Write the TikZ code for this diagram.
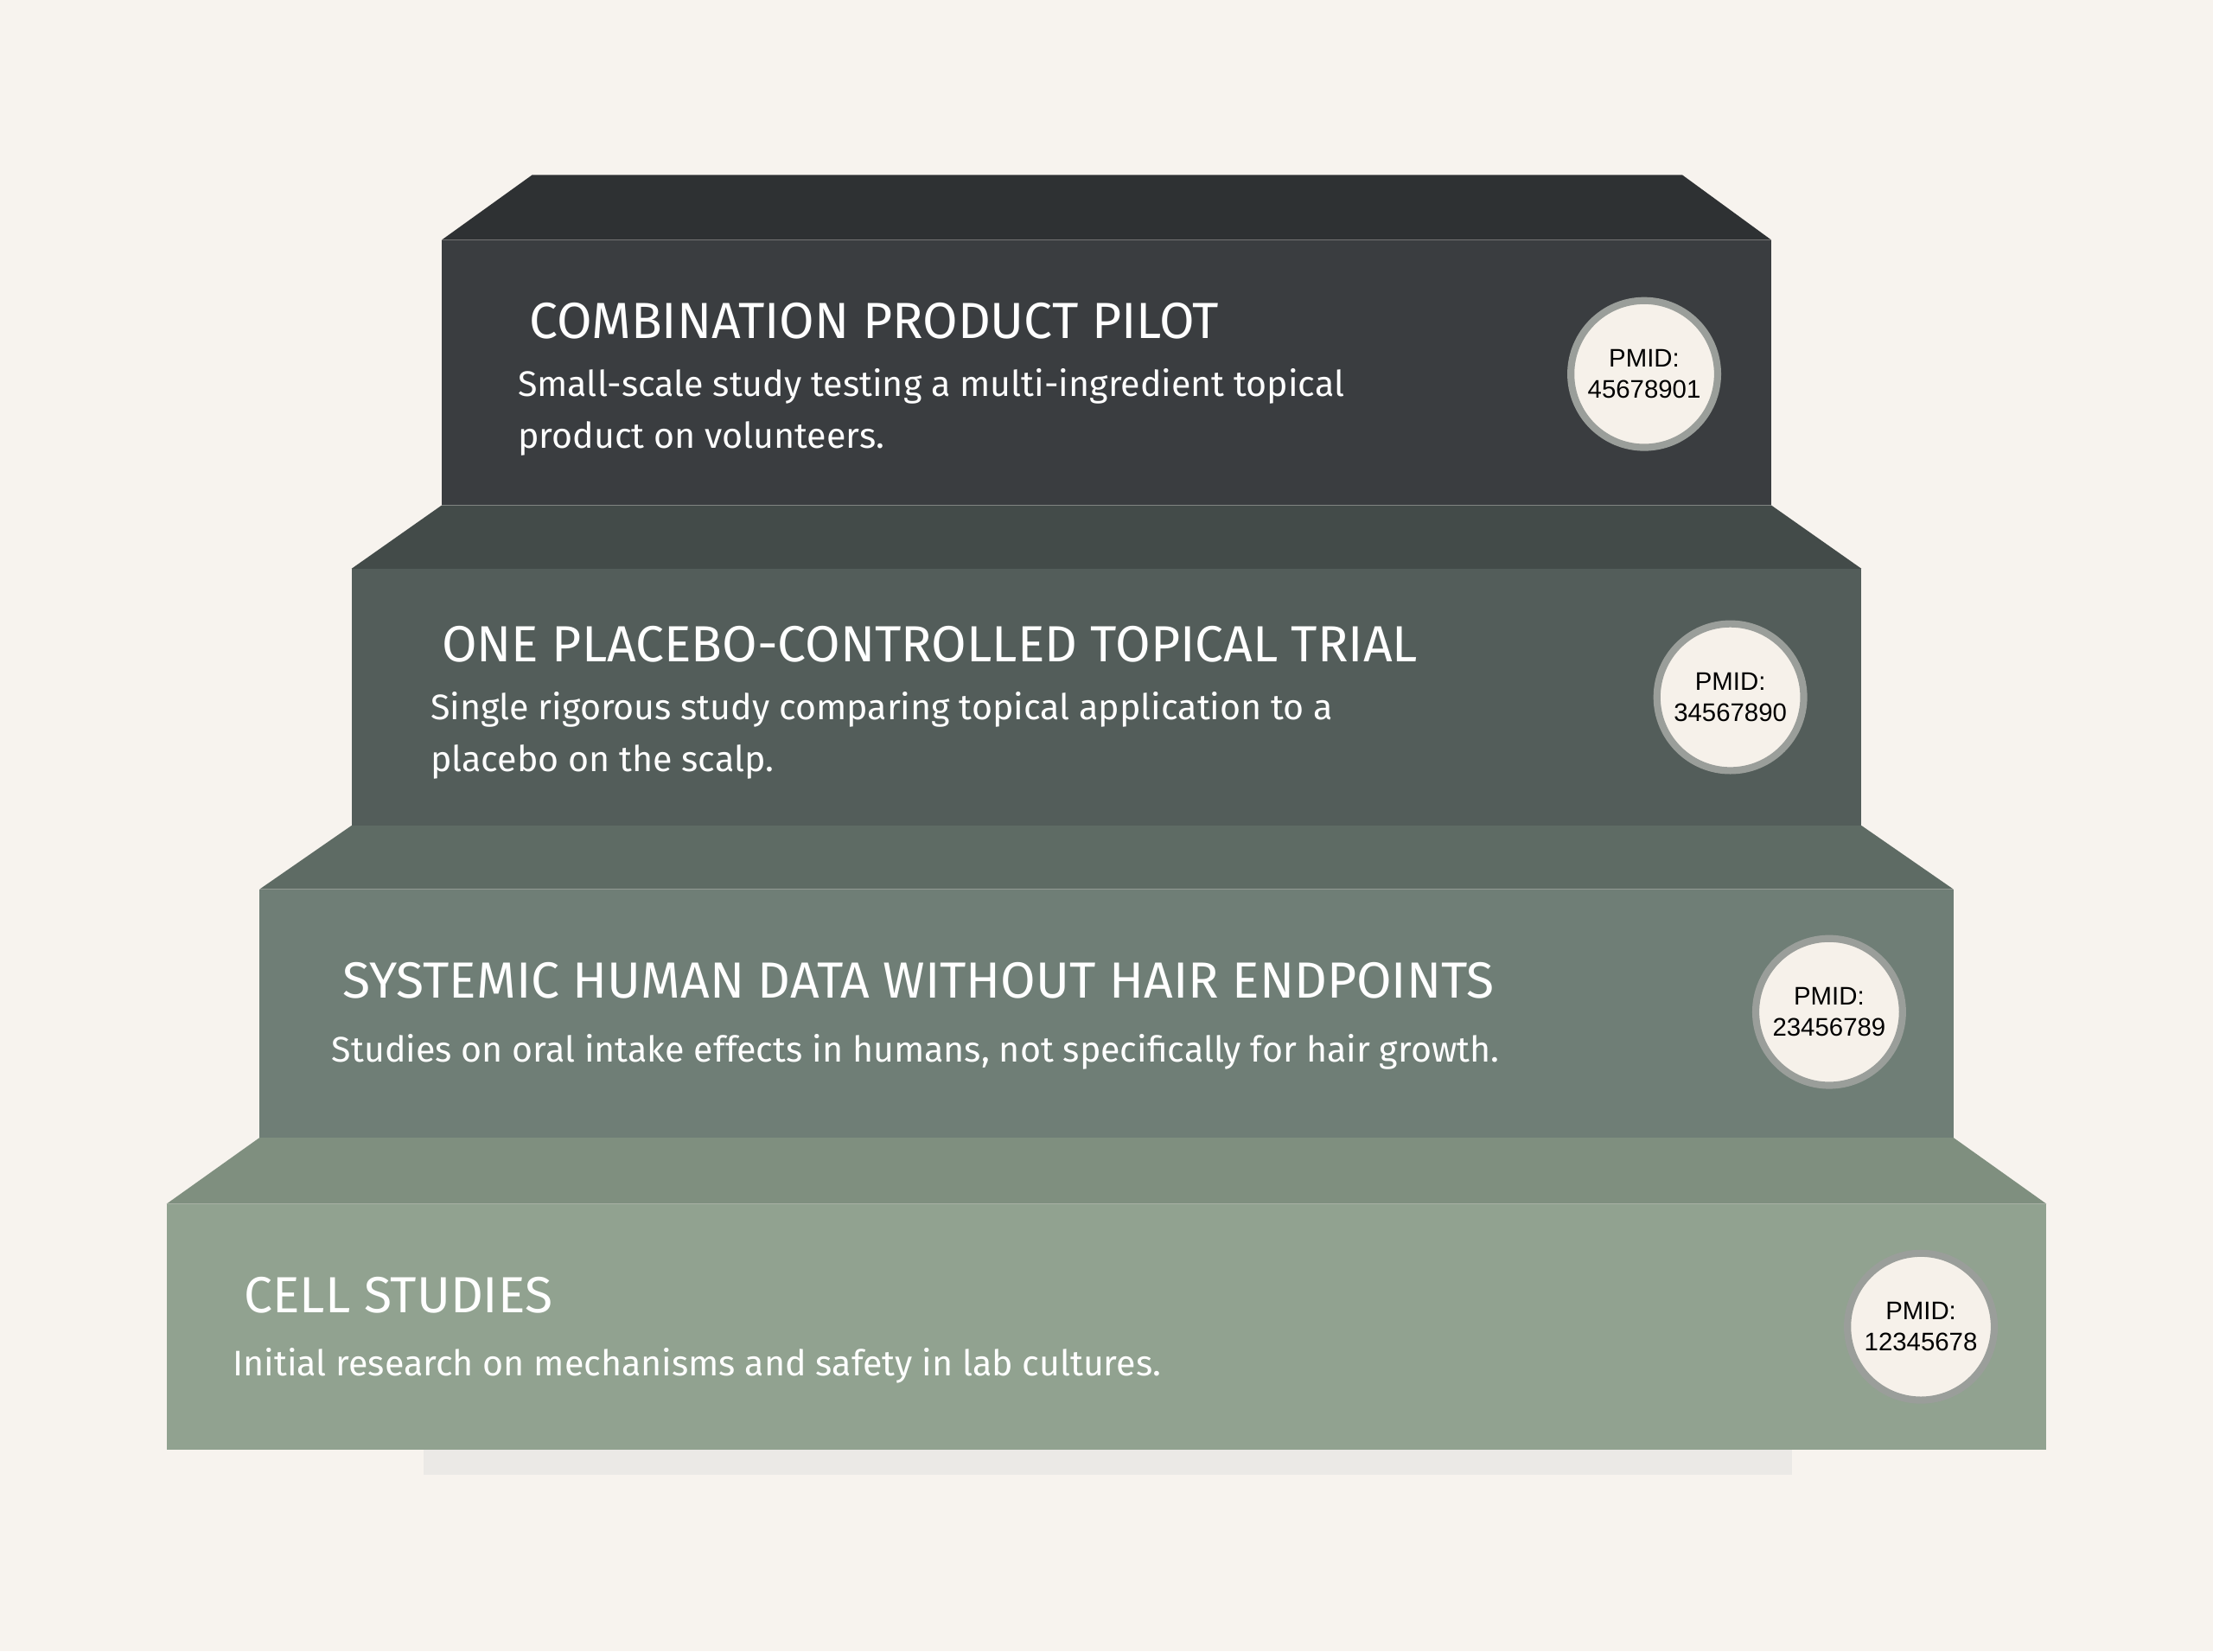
\documentclass[tikz,border=0pt]{standalone}
\usepackage{fontspec}
\setmainfont{Fira Sans}
\newfontfamily\pmidfont{Liberation Sans}
\definecolor{bg}{HTML}{F7F3EE}
\definecolor{fA}{HTML}{3A3D40}\definecolor{tA}{HTML}{2E3133}
\definecolor{fB}{HTML}{535D5A}\definecolor{tB}{HTML}{434B49}
\definecolor{fC}{HTML}{6F7E76}\definecolor{tC}{HTML}{5E6B64}
\definecolor{fD}{HTML}{91A290}\definecolor{tD}{HTML}{7F8F7F}
\definecolor{disc}{HTML}{F6F1EA}\definecolor{ring}{HTML}{9A9E9A}
\begin{document}
\begin{tikzpicture}[x=0.5pt,y=-0.5pt,
  ttl/.style={anchor=base west,text=white,font=\fontsize{18}{20}\selectfont},
  bdy/.style={anchor=north west,text=white,align=left,font=\fontsize{12.6}{18.5}\selectfont},
  pm/.style={circle,draw=ring,line width=2.5pt,fill=disc,minimum size=52pt,inner sep=0pt,align=center,font=\pmidfont\fontsize{9}{11}\selectfont}]
\fill[bg] (0,0) rectangle (1568,1170);
\useasboundingbox (0,0) rectangle (1568,1170);
\fill[black!12,opacity=0.5] (300,1027) rectangle (1270,1045);
% step 4
\fill[tD] (184,806) -- (1384,806) -- (1450,853) -- (118,853) -- cycle;
\fill[fD] (118,853) rectangle (1450,1027);
% step 3
\fill[tC] (249,585) -- (1319,585) -- (1384,630) -- (184,630) -- cycle;
\fill[fC] (184,630) rectangle (1384,806);
% step 2
\fill[tB] (313,358) -- (1255,358) -- (1319,403) -- (249,403) -- cycle;
\fill[fB] (249,403) rectangle (1319,585);
% step 1
\fill[tA] (377,124) -- (1192,124) -- (1255,170) -- (313,170) -- cycle;
\fill[fA] (313,170) rectangle (1255,358);
% texts
\node[ttl] (t1) at (368,240) {COMBINATION PRODUCT PILOT};
\node[bdy] (b1) at (360,254) {Small-scale study testing a multi-ingredient topical\\product on volunteers.};
\node[ttl] (t2) at (306,469) {ONE PLACEBO-CONTROLLED TOPICAL TRIAL};
\node[bdy] (b2) at (298,483) {Single rigorous study comparing topical application to a\\placebo on the scalp.};
\node[ttl] (t3) at (236,707) {SYSTEMIC HUMAN DATA WITHOUT HAIR ENDPOINTS};
\node[bdy] (b3) at (228,726) {Studies on oral intake effects in humans, not specifically for hair growth.};
\node[ttl] (t4) at (166,930) {CELL STUDIES};
\node[bdy] (b4) at (158,948) {Initial research on mechanisms and safety in lab cultures.};
% pmid
\node[pm] (p1) at (1165,265) {PMID:\\45678901};
\node[pm] (p2) at (1226,494) {PMID:\\34567890};
\node[pm] (p3) at (1296,717) {PMID:\\23456789};
\node[pm] (p4) at (1361,940) {PMID:\\12345678};
\end{tikzpicture}
\end{document}
